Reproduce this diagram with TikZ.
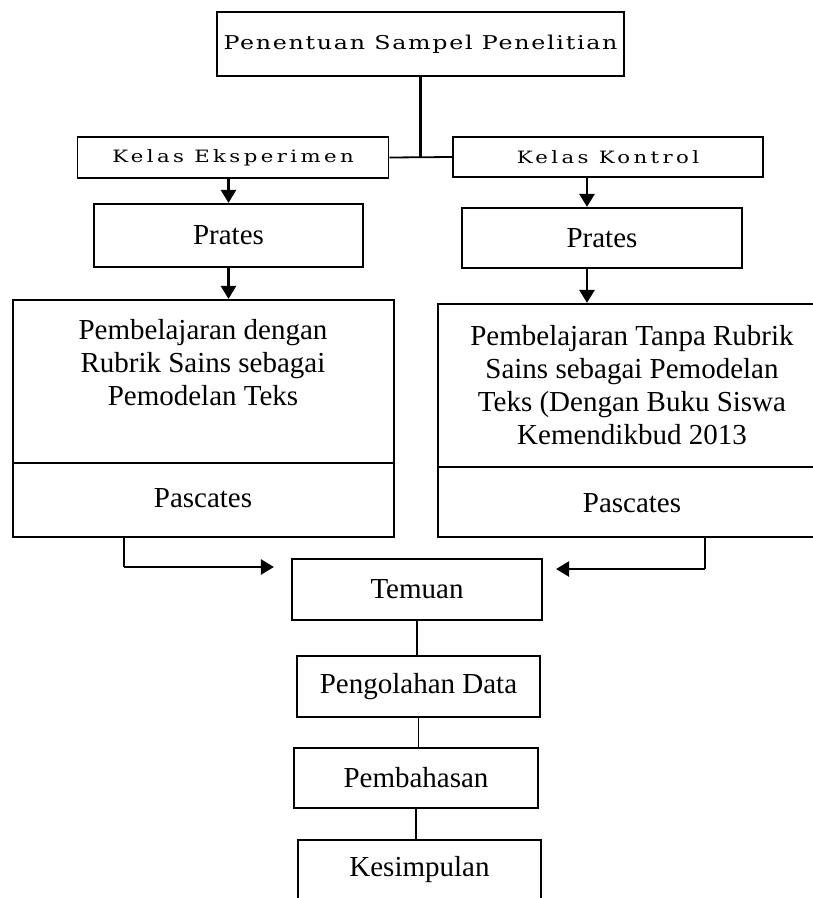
\documentclass[tikz,border=0pt]{standalone}
\usepackage{fontspec}
\setmainfont{Liberation Serif}
\newfontfamily\lebar[FakeStretch=1.25, LetterSpace=9]{DejaVu Serif}
\newfontfamily\lebarkelas[FakeStretch=1.25, LetterSpace=20]{DejaVu Serif}
\usetikzlibrary{arrows.meta}

\tikzset{
  kotak/.style={draw, rectangle, line width=2.2pt, inner sep=0pt, align=center,
    font=\fontsize{29}{33}\selectfont},
  kelas/.style={kotak, line width=1.8pt, font=\lebarkelas\fontsize{17}{20}\selectfont},
  isi/.style={inner sep=0pt, align=center, font=\fontsize{29}{33}\selectfont},
  panah/.style={line width=2.6pt, -{Triangle[width=15pt,length=13pt]}},
  garis/.style={line width=1.1pt},
}

\begin{document}
\begin{tikzpicture}[x=1pt,y=-1pt]
	\useasboundingbox (0,0) rectangle (813,898);
	\clip (0,0) rectangle (813,898);
	\node[kelas, font=\lebar\fontsize{19}{22}\selectfont, minimum width=407pt, minimum height=64pt] (sampel) at (420.5,44) {Penentuan Sampel Penelitian};
	\node[kelas, minimum width=311pt, minimum height=41pt] (eks) at (233,157.5) {Kelas Eksperimen};
	\node[kelas, minimum width=310pt, minimum height=40pt] (kon) at (608,157) {Kelas Kontrol};
	\node[kotak, minimum width=269pt, minimum height=63pt] (pra1) at (228.5,235.5) {Prates};
	\node[kotak, minimum width=280pt, minimum height=60pt] (pra2) at (602,238) {Prates};
	% kotak besar kiri dan kanan
	\node[kotak, minimum width=381pt, minimum height=237pt] (bkiri) at (203.5,418.5) {};
	\node[kotak, minimum width=388pt, minimum height=233pt] (bkanan) at (632,420.5) {};
	\node[isi] (teks1) at (203,363) {Pembelajaran dengan\\Rubrik Sains sebagai\\Pemodelan Teks};
	\node[isi] (pas1) at (203,498) {Pascates};
	\node[isi] (teks2) at (632,385) {Pembelajaran Tanpa Rubrik\\Sains sebagai Pemodelan\\Teks (Dengan Buku Siswa\\Kemendikbud 2013};
	\node[isi] (pas2) at (632,503) {Pascates};
	\draw[garis] (bkiri.west |- 0,463) -- (bkiri.east |- 0,463);
	\draw[garis] (bkanan.west |- 0,467) -- (bkanan.east |- 0,467);
	% alur bawah
	\node[kotak, minimum width=250pt, minimum height=61pt] (temuan) at (417,589.5) {Temuan};
	\node[kotak, minimum width=243pt, minimum height=61pt] (olah) at (418.5,686.5) {Pengolahan Data};
	\node[kotak, minimum width=244pt, minimum height=60pt] (bahas) at (416,778) {Pembahasan};
	\node[kotak, minimum width=243pt, minimum height=80pt] (simpul) at (419.5,880) {};
	\node[isi] (simpul-teks) at (419.5,870) {Kesimpulan};
	\coordinate (sikukiri) at (124,567);
	\coordinate (sikukanan) at (705,569);

	\draw[line width=2.6pt] (sampel.south) -- (sampel.south |- eks.east);
	\draw[line width=1.8pt] (eks.east) -- (kon.west);
	\draw[panah] (eks.south -| pra1.north) -- (pra1.north);
	\draw[panah] (pra1.south) -- (pra1.south |- bkiri.north);
	\draw[panah] ([xshift=-21pt]kon.south) -- ([xshift=-21pt]kon.south |- pra2.north);
	\draw[panah] ([xshift=-15pt]pra2.south) -- ([xshift=-15pt]pra2.south |- bkanan.north);
	\draw[garis] (bkiri.south -| sikukiri) -- (sikukiri);
	\draw[panah] (sikukiri) -- ([xshift=-17pt]temuan.west |- sikukiri);
	\draw[garis] (bkanan.south -| sikukanan) -- (sikukanan);
	\draw[panah] (sikukanan) -- ([xshift=13pt]temuan.east |- sikukanan);
	\foreach \a/\b in {temuan/olah, olah/bahas, bahas/simpul}
		\draw[garis] (\a.south) -- (\a.south |- \b.north);
\end{tikzpicture}
\end{document}
